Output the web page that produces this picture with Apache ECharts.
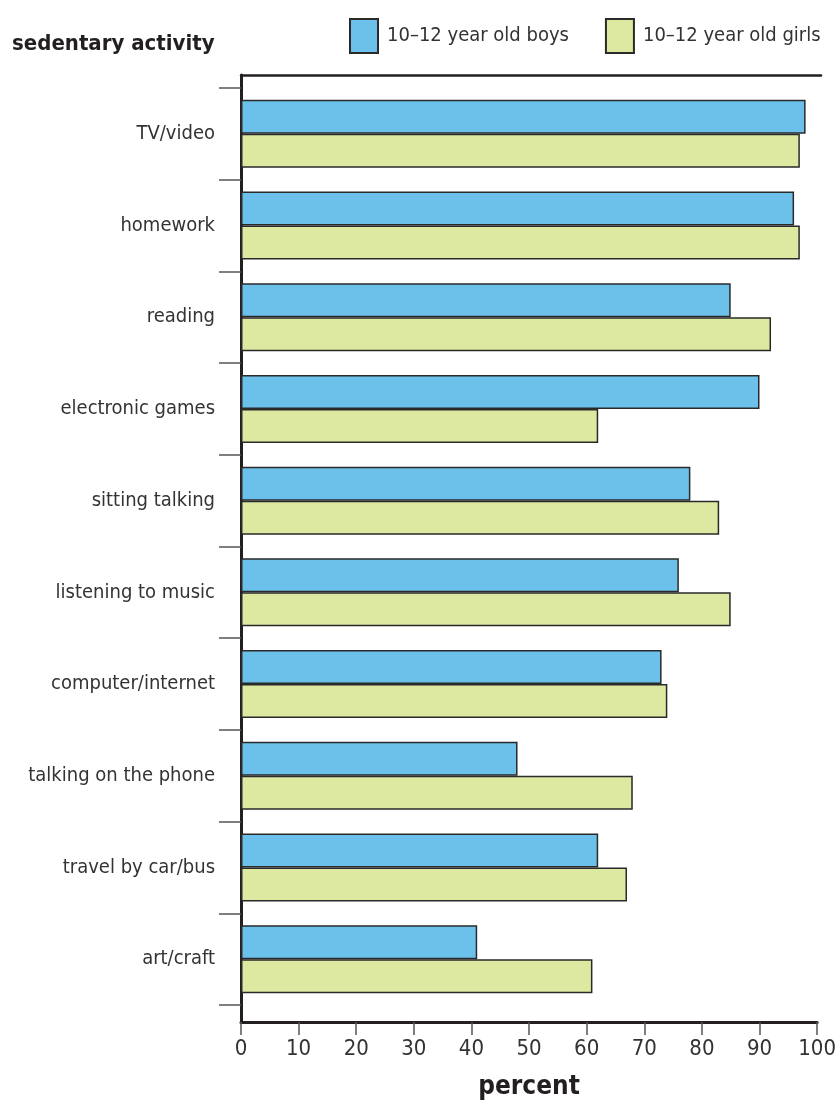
<!DOCTYPE html>
<html><head><meta charset="utf-8">
<script src="https://cdn.jsdelivr.net/npm/echarts@6/dist/echarts.min.js"></script>
<style>html,body{margin:0;padding:0;background:#fff}#c{width:839px;height:1107px}</style>
</head><body><div id="c"></div>
<script>
var categories = ["TV/video","homework","reading","electronic games","sitting talking","listening to music","computer/internet","talking on the phone","travel by car/bus","art/craft"];
var boys = [98,96,85,90,78,76,73,48,62,41];
var girls = [97,97,92,62,83,85,74,68,67,61];
var xTicks = [0,10,20,30,40,50,60,70,80,90,100];
var seriesNames = ["10\u201312 year old boys","10\u201312 year old girls"];

var FONT = '"Liberation Sans Narrow","DejaVu Sans Condensed","Roboto",sans-serif';
var chart = echarts.init(document.getElementById('c'), null, {renderer:'canvas'});
chart.setOption({
  animation:false,
  title:{text:'sedentary activity',left:7,top:28,textStyle:{fontFamily:FONT,fontWeight:'bold',fontSize:22,color:'#231f20'}},
  legend:{top:13,left:344,itemWidth:28,itemHeight:34,itemGap:36,icon:'rect',
    textStyle:{fontFamily:FONT,fontSize:20,color:'#333',padding:[0,0,0,4]},
    data:seriesNames},
  grid:[{left:241,right:18,top:88,height:917},{left:241,right:18,top:75,height:947}],
  xAxis:[{gridIndex:0,type:'value',min:0,max:100,interval:10,position:'bottom',offset:17,
      axisLine:{show:true,lineStyle:{color:'#231f20',width:3}},
      axisTick:{show:true,length:13,lineStyle:{color:'#555',width:1.5}},
      axisLabel:{margin:16,fontFamily:FONT,fontSize:22,color:'#333',
        formatter:function(v){return xTicks.indexOf(v)>=0?String(v):'';}},
      splitLine:{show:false},
      name:'percent',nameLocation:'middle',nameGap:52,
      nameTextStyle:{fontFamily:FONT,fontWeight:'bold',fontSize:26,color:'#231f20'}},
    {gridIndex:1,type:'value',min:0,max:100,position:'top',
      axisLine:{show:true,onZero:false,lineStyle:{color:'#231f20',width:2.5}},
      axisTick:{show:false},axisLabel:{show:false},splitLine:{show:false}}],
  yAxis:[{gridIndex:0,type:'category',data:categories,inverse:true,
      axisLine:{show:false},
      axisTick:{show:true,length:22,lineStyle:{color:'#555',width:1.5}},
      axisLabel:{margin:26,fontFamily:FONT,fontSize:20,color:'#333'}},
    {gridIndex:1,type:'value',min:0,max:1,
      axisLine:{show:true,onZero:false,lineStyle:{color:'#231f20',width:3}},
      axisTick:{show:false},axisLabel:{show:false},splitLine:{show:false}}],
  series:[
    {name:seriesNames[0],type:'bar',xAxisIndex:0,yAxisIndex:0,data:boys,barWidth:34,barGap:'0%',
      itemStyle:{color:'#6bc1ea',borderColor:'#2a2a2a',borderWidth:1.5}},
    {name:seriesNames[1],type:'bar',xAxisIndex:0,yAxisIndex:0,data:girls,barWidth:34,barGap:'0%',
      itemStyle:{color:'#dde8a0',borderColor:'#2a2a2a',borderWidth:1.5}}
  ]
});
</script></body></html>
